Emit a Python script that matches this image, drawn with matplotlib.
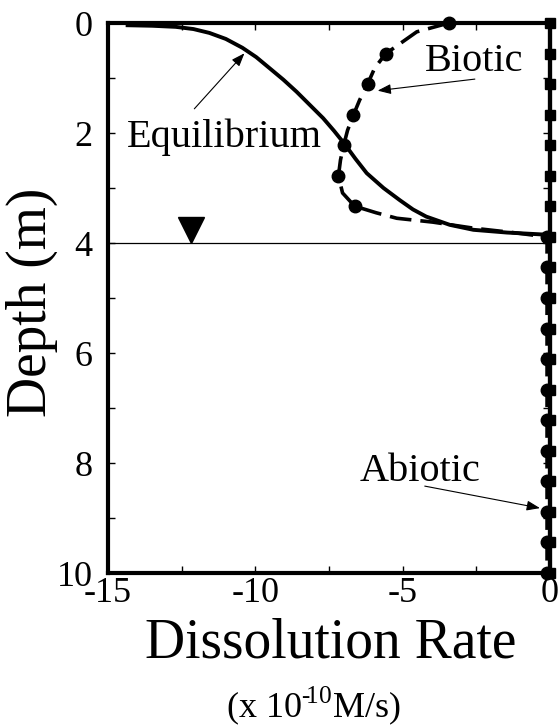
import matplotlib
matplotlib.use("Agg")
import matplotlib.pyplot as plt
from matplotlib.ticker import MultipleLocator

plt.rcParams["font.family"] = ["Liberation Serif", "DejaVu Serif"]
plt.rcParams["mathtext.fontset"] = "custom"
plt.rcParams["mathtext.rm"] = "Liberation Serif"
plt.rcParams["axes.unicode_minus"] = False

# Equilibrium profile (solid)
eq_rate = [-14.4, -13.5, -12.7, -12.1, -11.56, -11.0, -10.44, -9.97, -9.52,
           -9.05, -8.6, -8.15, -7.7, -7.33, -6.97, -6.6, -6.22, -5.65,
           -5.1, -4.65, -4.2, -3.4, -2.6, -1.46, -0.07, 0.0, 0.0]
eq_depth = [0.04, 0.05, 0.07, 0.11, 0.18, 0.29, 0.45, 0.62, 0.82,
            1.03, 1.25, 1.49, 1.73, 1.96, 2.2, 2.47, 2.73, 3.0,
            3.22, 3.39, 3.52, 3.67, 3.76, 3.81, 3.85, 3.9, 10.0]

# Biotic profile (dashed line)
bio_rate = [-3.43, -4.52, -5.58, -5.95, -6.19, -6.46, -6.67, -6.87, -7.0,
            -7.11, -7.18, -7.04, -6.63, -5.9, -5.2, -3.98, -2.6, -1.1,
            -0.1, -0.1]
bio_depth = [0.0, 0.16, 0.56, 0.82, 1.11, 1.4, 1.67, 1.95, 2.22,
             2.49, 2.78, 3.09, 3.33, 3.45, 3.55, 3.62, 3.73, 3.82,
             3.89, 10.0]

# sample depths (markers)
sample_depth = [0.0, 0.56, 1.11, 1.67, 2.22, 2.78, 3.33, 3.89, 4.44, 5.0,
                5.56, 6.11, 6.67, 7.22, 7.78, 8.33, 8.89, 9.44, 10.0]
bio_mark = [-3.43, -5.58, -6.19, -6.67, -7.0, -7.18, -6.63, -0.1, -0.1, -0.1,
            -0.1, -0.1, -0.1, -0.1, -0.1, -0.1, -0.1, -0.1, -0.1]
abio_mark = [0.0] * 19

water_table = 4.0

fig = plt.figure(figsize=(5.59, 7.28), dpi=100)
ax = fig.add_axes([0.1932, 0.2129, 0.7907, 0.7555])

ax.axhline(water_table, color="k", lw=0.9, zorder=1)
ax.plot(-12.18, 3.77, marker="v", ms=19, color="k", zorder=3)

ax.plot(abio_mark, sample_depth, color="k", lw=3, marker="s", ms=7,
        clip_on=False, zorder=4)
ax.plot(bio_rate, bio_depth, color="k", lw=2.6, dashes=(6, 2.5),
        clip_on=False, zorder=4)
ax.plot(bio_mark, sample_depth, ls="none", marker="o", ms=9, color="k",
        clip_on=False, zorder=5)
ax.plot(eq_rate, eq_depth, color="k", lw=2.8, solid_capstyle="butt",
        solid_joinstyle="round", clip_on=False, zorder=4)

ax.set_xlim(-15, 0)
ax.set_ylim(10, 0)
ax.xaxis.set_major_locator(MultipleLocator(5))
ax.xaxis.set_minor_locator(MultipleLocator(2.5))
ax.yaxis.set_major_locator(MultipleLocator(2))
ax.yaxis.set_minor_locator(MultipleLocator(1))
ax.tick_params(which="both", direction="in", top=True, right=True,
               length=5, width=1, labelsize=26)
ax.tick_params(axis="y", pad=11)
ax.tick_params(axis="x", pad=3)
for s in ax.spines.values():
    s.set_linewidth(3)

# labels
arrow = dict(arrowstyle="-|>,head_length=0.8,head_width=0.3",
             lw=0.8, color="k", shrinkA=0, shrinkB=0)
ax.text(-11.04, 2.07, "Equilibrium", fontsize=29, ha="center", va="center")
ax.annotate("", xy=(-10.37, 0.55), xytext=(-12.07, 1.56), arrowprops=arrow)
ax.text(-2.57, 0.7, "Biotic", fontsize=29, ha="center", va="center")
ax.annotate("", xy=(-5.85, 1.23), xytext=(-2.55, 1.02), arrowprops=arrow)
ax.text(-4.42, 8.16, "Abiotic", fontsize=29, ha="center", va="center")
ax.annotate("", xy=(-0.34, 8.82), xytext=(-4.25, 8.42), arrowprops=arrow)

fig.text(331 / 559, 1 - 643 / 728, "Dissolution Rate", fontsize=40,
         ha="center", va="center")
fig.text(313 / 559, 1 - 706 / 728, "(x 10$^{\u2010\\!10}$M/s)", fontsize=26,
         ha="center", va="center")
fig.text(32 / 559, 1 - 302 / 728, "Depth (m)", fontsize=40, rotation=90,
         ha="center", va="center")

fig.savefig("out.png", dpi=100)
